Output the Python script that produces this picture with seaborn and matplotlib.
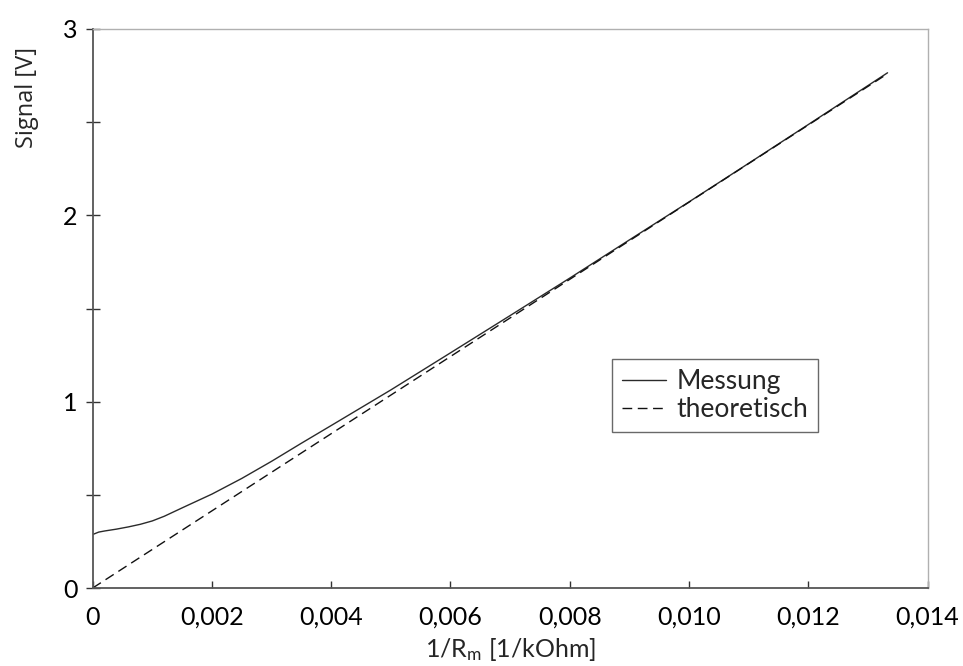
import numpy as np
import pandas as pd
import matplotlib
matplotlib.use("Agg")
import matplotlib.pyplot as plt
import seaborn as sns
from matplotlib.ticker import MultipleLocator, FuncFormatter

# ---- data ----
x_mess = [0.0, 0.0001, 0.0002, 0.0004, 0.0006, 0.0008, 0.0010, 0.0012, 0.0015,
          0.0020, 0.0025, 0.0030, 0.0035, 0.0040, 0.0050, 0.0060, 0.0070,
          0.0080, 0.0090, 0.0100, 0.0110, 0.0120, 0.01333]
y_mess = [0.287, 0.300, 0.306, 0.316, 0.328, 0.342, 0.360, 0.385, 0.430,
          0.504, 0.588, 0.680, 0.777, 0.872, 1.063, 1.262, 1.462,
          1.663, 1.868, 2.072, 2.279, 2.487, 2.765]
x_theo = [0.0, 0.01333]
y_theo = [0.0, 2.760]

series_names = ["Messung", "theoretisch"]
x_ticks = [0, 0.002, 0.004, 0.006, 0.008, 0.010, 0.012, 0.014]
y_ticks = [0, 1, 2, 3]

df = pd.concat([
    pd.DataFrame({"x": x_mess, "y": y_mess, "Serie": series_names[0]}),
    pd.DataFrame({"x": x_theo, "y": y_theo, "Serie": series_names[1]}),
])

sns.set_theme(style="white")
FONT = "Lato"
plt.rcParams["font.family"] = [FONT, "DejaVu Sans"]
plt.rcParams["mathtext.fontset"] = "custom"
plt.rcParams["mathtext.rm"] = FONT
plt.rcParams["mathtext.it"] = FONT

W, H = 963, 666
L, R, T, B = 92.7, 927.5, 29, 588
fig = plt.figure(figsize=(W / 100, H / 100), dpi=100)
ax = fig.add_axes([L / W, 1 - B / H, (R - L) / W, (B - T) / H])

sns.lineplot(data=df, x="x", y="y", hue="Serie", style="Serie",
             palette=["#2a2a2a", "#111111"],
             dashes={"Messung": "", "theoretisch": (7, 4)},
             linewidth=1.0, ax=ax, legend=True, sort=False)

ax.set_xlim(0, 0.014)
ax.set_ylim(0, 3)
ax.set_xticks(x_ticks)
ax.set_yticks(y_ticks)
ax.yaxis.set_minor_locator(MultipleLocator(0.5))

def fmt_x(v, pos):
    if abs(v) < 1e-12:
        return "0"
    return f"{v:.3f}".replace(".", ",")

ax.xaxis.set_major_formatter(FuncFormatter(fmt_x))
ax.yaxis.set_major_formatter(FuncFormatter(lambda v, p: f"{v:.0f}"))

ax.tick_params(axis="both", which="major", labelsize=18, colors="#333333",
               labelcolor="black")
ax.tick_params(axis="x", which="major", direction="in", length=5, width=1,
               bottom=True, top=False, pad=13)
ax.tick_params(axis="y", which="both", direction="inout", length=10, width=1,
               left=True, right=False, pad=6)
ax.tick_params(axis="y", which="minor", length=10, width=1, color="#333333")

for s in ["left", "bottom"]:
    ax.spines[s].set_color("#555555")
    ax.spines[s].set_linewidth(1.3)
for s in ["top", "right"]:
    ax.spines[s].set_color("#b0b0b0")
    ax.spines[s].set_linewidth(1.0)

ax.set_xlabel(r"1/R$_{\mathrm{m}}$ [1/kOhm]", fontsize=18, labelpad=5)
ax.set_ylabel("Signal [V]", fontsize=17, family=["Open Sans", "DejaVu Sans"])
ax.yaxis.set_label_coords((39 - L) / (R - L), (B - 97) / (B - T))

handles, labels = ax.get_legend_handles_labels()
leg = ax.legend(handles, labels, loc="lower left",
                bbox_to_anchor=((612 - L) / (R - L), (B - 432) / (B - T)),
                fontsize=19, frameon=True, fancybox=False, borderpad=0.38,
                handlelength=1.65, handletextpad=0.4, labelspacing=0.12,
                borderaxespad=0)
leg.get_frame().set_edgecolor("#444444")
leg.get_frame().set_linewidth(1.0)

fig.savefig("out.png", dpi=100)
